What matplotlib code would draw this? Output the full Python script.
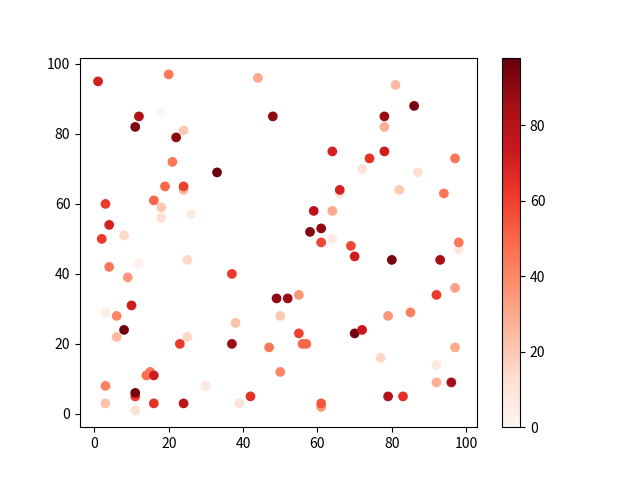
import matplotlib
matplotlib.use('Agg')
import matplotlib.pyplot as plt

plt.rcParams['font.family'] = ['Noto Sans CJK SC', 'DejaVu Sans']

x = [1, 20, 44, 12, 18, 48, 11, 24, 22, 21, 33, 19, 24, 24, 16, 18, 18, 26, 3, 4, 2, 8,
     81, 86, 78, 78, 64, 74, 78, 97, 72, 87, 66, 66, 82, 94, 59, 64, 61, 58,
     4, 12, 25, 9, 37, 49, 10, 3, 6, 8, 6, 25, 38, 50, 23, 37, 47, 50, 14, 15, 16,
     3, 11, 11, 30, 3, 16, 24, 11, 39, 42,
     61, 64, 69, 70, 80, 93, 98, 98, 52, 55, 55, 56, 57, 70, 72, 77, 79, 85, 92, 97,
     97, 92, 92, 96, 79, 83, 61, 61]
y = [95, 97, 96, 85, 86, 85, 82, 81, 79, 72, 69, 65, 64, 65, 61, 59, 56, 57, 60, 54, 50, 51,
     94, 88, 85, 82, 75, 73, 75, 73, 70, 69, 63, 64, 64, 63, 58, 58, 53, 52,
     42, 43, 44, 39, 40, 33, 31, 29, 28, 24, 22, 22, 26, 28, 20, 20, 19, 12, 11, 12, 11,
     8, 5, 6, 8, 3, 3, 3, 1, 3, 5,
     49, 50, 48, 45, 44, 44, 47, 49, 33, 34, 23, 20, 20, 23, 24, 16, 28, 29, 34, 36,
     19, 14, 9, 9, 5, 5, 2, 3]
c = [70, 45, 30, 82, 0, 90, 93, 20, 90, 45, 98, 50, 25, 60, 50, 20, 12, 7, 62, 70, 62, 15,
     25, 95, 88, 28, 70, 65, 72, 45, 10, 12, 10, 70, 20, 45, 80, 30, 90, 92,
     45, 3, 15, 35, 62, 90, 72, 5, 40, 96, 25, 15, 22, 20, 62, 88, 45, 40, 48, 45, 72,
     42, 62, 95, 8, 22, 65, 80, 12, 10, 65,
     58, 5, 58, 72, 95, 85, 8, 45, 88, 35, 60, 50, 50, 95, 75, 15, 35, 42, 62, 32,
     30, 7, 28, 85, 82, 65, 35, 55]

fig, ax = plt.subplots(figsize=(6.4, 4.8), dpi=100)
sc = ax.scatter(x, y, c=c, cmap='Reds')
fig.colorbar(sc)
fig.savefig('out.png')
